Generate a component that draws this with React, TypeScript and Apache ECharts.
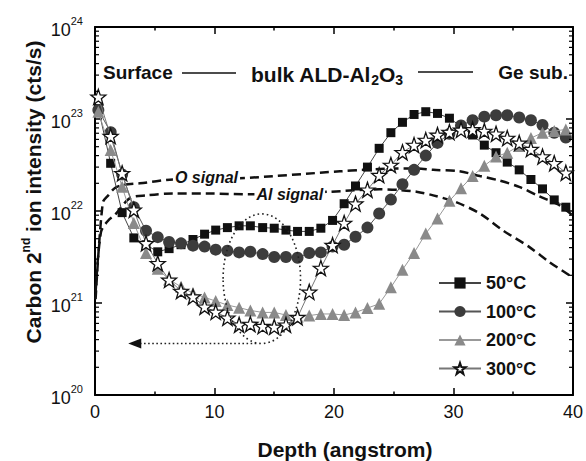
import React, { useEffect, useRef } from 'react';
import * as echarts from 'echarts';

// ---------- data ----------
const depth = [0.28, 1.31, 2.27, 3.25, 4.27, 5.25, 6.2, 7.2, 8.2, 9.17, 10.1, 11.08, 12.06, 13.0, 14.03, 15.0, 15.98, 16.95, 17.93, 18.9, 19.88, 20.85, 21.8, 22.8, 23.78, 24.76, 25.73, 26.7, 27.68, 28.66, 29.66, 30.63, 31.6, 32.58, 33.56, 34.5, 35.5, 36.48, 37.45, 38.43, 39.4];

const c50 = [1.3e23, 3.3e22, 9.6e21, 5.1e21, 4.3e21, 3.6e21, 3.9e21, 4.3e21, 4.9e21, 5.6e21, 6.2e21, 6.6e21, 6.9e21, 6.9e21, 6.6e21, 6.5e21, 6.2e21, 6.0e21, 6.0e21, 6.5e21, 7.9e21, 1.2e22, 1.87e22, 3.0e22, 4.8e22, 7.1e22, 9.2e22, 1.12e23, 1.2e23, 1.15e23, 1.02e23, 8.3e22, 6.7e22, 5.2e22, 4.3e22, 3.4e22, 2.8e22, 2.2e22, 1.74e22, 1.32e22, 1.1e22];

const c100 = [1.25e23, 7.2e22, 2.5e22, 1.1e22, 6.1e21, 5.2e21, 4.6e21, 4.45e21, 4.2e21, 4.1e21, 3.8e21, 3.7e21, 3.55e21, 3.6e21, 3.4e21, 3.16e21, 3.16e21, 3.1e21, 3.5e21, 3.55e21, 4.1e21, 4.3e21, 5.25e21, 6.6e21, 9.4e21, 1.33e22, 1.95e22, 2.8e22, 4.0e22, 5.5e22, 6.9e22, 8.5e22, 9.7e22, 1.06e23, 1.1e23, 1.1e23, 1.04e23, 9.7e22, 8.6e22, 7.1e22, 6.3e22];

const c200 = [1.2e23, 4.6e22, 1.83e22, 7.4e21, 3.5e21, 2.35e21, 1.8e21, 1.5e21, 1.28e21, 1.15e21, 1.05e21, 9.5e20, 8.9e20, 8.3e20, 7.9e20, 7.9e20, 7.4e20, 7.1e20, 7.3e20, 7.6e20, 7.6e20, 7.4e20, 7.9e20, 8.8e20, 9.8e20, 1.48e21, 2.3e21, 3.5e21, 5.7e21, 8.3e21, 1.29e22, 1.77e22, 2.4e22, 3.1e22, 3.9e22, 4.3e22, 5.1e22, 6.2e22, 7.1e22, 7.4e22, 7.7e22];

const c300 = [1.74e23, 6.5e22, 2.57e22, 1.03e22, 4.45e21, 2.7e21, 1.78e21, 1.35e21, 1.17e21, 9.1e20, 8.0e20, 6.9e20, 5.8e20, 5.9e20, 5.6e20, 5.5e20, 5.8e20, 7.0e20, 1.32e21, 2.4e21, 4.25e21, 7.4e21, 1.2e22, 1.7e22, 2.45e22, 3.16e22, 4.35e22, 5.2e22, 5.9e22, 6.7e22, 7.2e22, 7.6e22, 7.7e22, 7.4e22, 6.9e22, 6.2e22, 5.5e22, 4.7e22, 3.9e22, 3.3e22, 2.6e22];

const oDepth = [0.05, 0.65, 1.11, 1.67, 2.36, 3.76, 6.54, 12.1, 20.5, 22.4, 25.2, 26.9, 28.3, 30.5, 32.2, 33.8, 35.5, 37.2, 38.8, 39.9];
const oSignal = [1.1e21, 1.23e22, 1.48e22, 1.78e22, 1.92e22, 2.0e22, 2.2e22, 2.27e22, 2.7e22, 2.8e22, 2.9e22, 2.9e22, 2.8e22, 2.7e22, 2.4e22, 2.15e22, 1.83e22, 1.44e22, 1.17e22, 9.1e21];

const alDepth = [0.05, 0.5, 1.11, 1.67, 2.92, 4.32, 6.54, 9.33, 12.95, 19.6, 23.8, 25.5, 26.9, 28.3, 30.2, 32.2, 34.1, 36.3, 38.0, 39.7];
const alSignal = [1.3e21, 5.9e21, 7.9e21, 9.1e21, 1.38e22, 1.48e22, 1.55e22, 1.55e22, 1.52e22, 1.62e22, 1.72e22, 1.69e22, 1.62e22, 1.48e22, 1.25e22, 9.4e21, 6.2e21, 4.1e21, 2.8e21, 2.0e21];

const seriesNames = ['50°C', '100°C', '200°C', '300°C'];
const xMin = 0, xMax = 40, xInterval = 10;
const yMin = 1e20, yMax = 1e24;

// annotation anchors (data coordinates)
const oLabelAt = [9.33, 2.34e22];
const alLabelAt = [16.3, 1.53e22];
const ellipseLeftRight = [10.72, 17.2];
const ellipseTopBottom = [9.3e21, 3.63e20];
const arrowFromX = 13.5, arrowTipX = 2.78, arrowY = 3.63e20;

const FONT = "'Liberation Sans', Arial, Helvetica, sans-serif";
const STAR = 'path://M0,-10L2.35,-3.24L9.51,-3.09L3.8,1.24L5.88,8.09L0,4L-5.88,8.09L-3.8,1.24L-9.51,-3.09L-2.35,-3.24Z';

const pairs = (xs: number[], ys: number[]) => xs.map((x, i) => [x, ys[i]]);

function App() {
  const ref = useRef<HTMLDivElement>(null);

  useEffect(() => {
    if (!ref.current) return;
    const chart = echarts.init(ref.current, null, { renderer: 'svg' });

    const axisLine = { show: true, onZero: false, lineStyle: { color: '#000', width: 2 } };
    const tick = { show: true, inside: true, length: 7, lineStyle: { color: '#000', width: 1.5 } };
    const xBase = {
      type: 'value', min: xMin, max: xMax, interval: xInterval,
      axisLine, axisTick: tick,
      minorTick: { show: true, splitNumber: 2, length: 3.5, lineStyle: { color: '#000', width: 1.5 } },
      splitLine: { show: false }, minorSplitLine: { show: false },
    };
    const yBase = {
      type: 'log', logBase: 10, min: yMin, max: yMax,
      axisLine, axisTick: tick,
      splitLine: { show: false },
    };
    const dashed = (name: string, xs: number[], ys: number[]) => ({
      name, type: 'line', data: pairs(xs, ys), symbol: 'none', smooth: 0.3,
      lineStyle: { color: '#111', width: 2.5, type: [9, 5] }, z: 1, silent: true,
    });

    chart.setOption({
      animation: false,
      textStyle: { fontFamily: FONT },
      grid: { left: 95, right: 12, top: 27, bottom: 66, containLabel: false },
      xAxis: [
        { ...xBase, position: 'bottom', axisLabel: { show: true, fontSize: 18, color: '#111', margin: 8, fontFamily: FONT } },
        { ...xBase, position: 'top', axisLabel: { show: false } },
      ],
      yAxis: [
        {
          ...yBase, position: 'left',
          axisLabel: {
            show: true, margin: 12, color: '#111',
            formatter: (v: number) => '{b|10}{s|' + Math.round(Math.log10(v)) + '}',
            rich: {
              b: { fontSize: 18, lineHeight: 24, verticalAlign: 'bottom', fontFamily: FONT, color: '#111' },
              s: { fontSize: 11, lineHeight: 12, verticalAlign: 'top', fontFamily: FONT, color: '#111' },
            },
          },
        },
        { ...yBase, position: 'right', axisLabel: { show: false } },
      ],
      legend: {
        data: seriesNames, orient: 'vertical', left: 433, top: 269,
        itemWidth: 42, itemHeight: 14, itemGap: 10.5,
        textStyle: { fontSize: 18, fontWeight: 'bold', color: '#111', lineHeight: 18, fontFamily: FONT },
      },
      series: [
        dashed('O signal', oDepth, oSignal),
        dashed('Al signal', alDepth, alSignal),
        {
          name: seriesNames[0], type: 'line', data: pairs(depth, c50),
          symbol: 'rect', symbolSize: 9, itemStyle: { color: '#111' },
          lineStyle: { color: '#444', width: 1 }, z: 3,
        },
        {
          name: seriesNames[1], type: 'line', data: pairs(depth, c100),
          symbol: 'circle', symbolSize: 12, itemStyle: { color: '#3c3c3c' },
          lineStyle: { color: '#555', width: 1 }, z: 4,
        },
        {
          name: seriesNames[2], type: 'line', data: pairs(depth, c200),
          symbol: 'triangle', symbolSize: 12, itemStyle: { color: '#8a8a8a' },
          lineStyle: { color: '#999', width: 1 }, z: 5,
        },
        {
          name: seriesNames[3], type: 'line', data: pairs(depth, c300),
          symbol: STAR, symbolSize: 15,
          itemStyle: { color: '#fff', borderColor: '#111', borderWidth: 1.3 },
          lineStyle: { color: '#777', width: 1 }, z: 6,
        },
      ],
    });

    const P = (x: number, y: number) =>
      chart.convertToPixel({ xAxisIndex: 0, yAxisIndex: 0 }, [x, y]) as number[];
    const [xl] = P(xMin, yMin);
    const [xr] = P(xMax, yMin);

    const graphics: any[] = [];
    // log minor ticks on left and right axes
    for (let d = 20; d < 24; d++) {
      for (let k = 2; k <= 9; k++) {
        const yy = P(0, k * Math.pow(10, d))[1];
        graphics.push({ type: 'line', shape: { x1: xl, y1: yy, x2: xl + 4, y2: yy }, style: { stroke: '#000', lineWidth: 1.2 }, z: 10 });
        graphics.push({ type: 'line', shape: { x1: xr - 4, y1: yy, x2: xr, y2: yy }, style: { stroke: '#000', lineWidth: 1.2 }, z: 10 });
      }
    }
    // dotted ellipse
    const eL = P(ellipseLeftRight[0], ellipseTopBottom[1])[0];
    const eR = P(ellipseLeftRight[1], ellipseTopBottom[1])[0];
    const eT = P(ellipseLeftRight[0], ellipseTopBottom[0])[1];
    const eB = P(ellipseLeftRight[0], ellipseTopBottom[1])[1];
    graphics.push({
      type: 'ellipse', shape: { cx: (eL + eR) / 2, cy: (eT + eB) / 2, rx: (eR - eL) / 2, ry: (eB - eT) / 2 },
      style: { fill: 'none', stroke: '#222', lineWidth: 1.6, lineDash: [1.6, 3] }, z: 10,
    });
    // dotted arrow
    const a0 = P(arrowFromX, arrowY);
    const aTip = P(arrowTipX, arrowY);
    graphics.push({
      type: 'line', shape: { x1: a0[0], y1: a0[1], x2: aTip[0] + 12, y2: aTip[1] },
      style: { stroke: '#222', lineWidth: 1.6, lineDash: [1.6, 2.5] }, z: 10,
    });
    graphics.push({
      type: 'polygon', shape: { points: [[aTip[0], aTip[1]], [aTip[0] + 13, aTip[1] - 5], [aTip[0] + 13, aTip[1] + 5]] },
      style: { fill: '#111' }, z: 10,
    });
    // signal labels
    const oL = P(oLabelAt[0], oLabelAt[1]);
    const aL = P(alLabelAt[0], alLabelAt[1]);
    const sigStyle = { fontSize: 16, fontWeight: 'bold', fontStyle: 'italic', fontFamily: FONT, fill: '#111', align: 'center', verticalAlign: 'middle', backgroundColor: '#fff', padding: [0, 2] };
    graphics.push({ type: 'text', x: oL[0], y: oL[1], style: { ...sigStyle, text: 'O signal' }, z: 11 });
    graphics.push({ type: 'text', x: aL[0], y: aL[1], style: { ...sigStyle, text: 'Al signal' }, z: 11 });

    // top region annotations
    const topY = 72;
    graphics.push({ type: 'text', x: 103, y: topY, style: { text: 'Surface', fontSize: 19, fontWeight: 'bold', fontFamily: FONT, fill: '#111', align: 'left', verticalAlign: 'middle' }, z: 11 });
    graphics.push({ type: 'line', shape: { x1: 182, y1: topY + 1, x2: 236, y2: topY + 1 }, style: { stroke: '#111', lineWidth: 1.3 }, z: 11 });
    graphics.push({
      type: 'text', x: 251, y: topY + 2,
      style: {
        text: 'bulk ALD-Al{sub|2}O{sub|3}', fontSize: 21, fontWeight: 'bold', fontFamily: FONT, fill: '#111',
        align: 'left', verticalAlign: 'middle', lineHeight: 26,
        rich: { sub: { fontSize: 14, fontWeight: 'bold', fontFamily: FONT, fill: '#111', lineHeight: 12, verticalAlign: 'bottom' } },
      }, z: 11,
    });
    graphics.push({ type: 'line', shape: { x1: 418, y1: topY, x2: 473, y2: topY }, style: { stroke: '#111', lineWidth: 1.3 }, z: 11 });
    graphics.push({ type: 'text', x: 568, y: topY, style: { text: 'Ge sub.', fontSize: 19, fontWeight: 'bold', fontFamily: FONT, fill: '#111', align: 'right', verticalAlign: 'middle' }, z: 11 });

    // axis titles
    graphics.push({
      type: 'text', x: 345, y: 449,
      style: { text: 'Depth (angstrom)', fontSize: 21, fontWeight: 'bold', fontFamily: FONT, fill: '#111', align: 'center', verticalAlign: 'middle' },
    });
    graphics.push({
      type: 'text', x: 33, y: 192, rotation: Math.PI / 2,
      style: {
        text: 'Carbon 2{sup|nd} ion intensity (cts/s)', fontSize: 21, fontWeight: 'bold', fontFamily: FONT, fill: '#111',
        align: 'center', verticalAlign: 'middle', lineHeight: 26,
        rich: { sup: { fontSize: 12, fontWeight: 'bold', fontFamily: FONT, fill: '#111', lineHeight: 12, verticalAlign: 'top' } },
      },
    });

    chart.setOption({ graphic: graphics });

    return () => chart.dispose();
  }, []);

  return <div ref={ref} style={{ position: 'fixed', left: 0, top: 0, width: 586, height: 461, background: '#fff' }} />;
}

export default App;
